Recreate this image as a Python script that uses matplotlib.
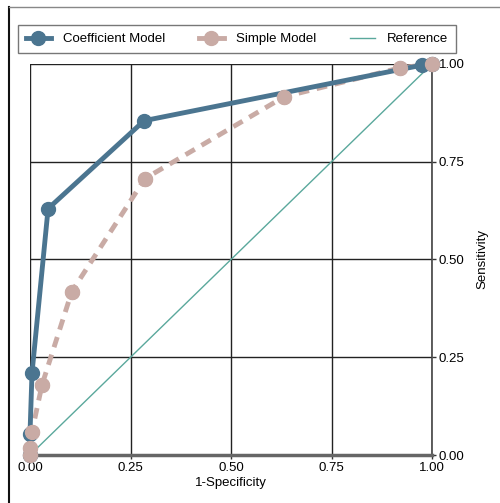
import matplotlib
matplotlib.use('Agg')
import matplotlib.pyplot as plt
from matplotlib.lines import Line2D

plt.rcParams['font.family'] = ['Liberation Sans', 'DejaVu Sans']

# ROC points
coef_fpr = [0.0, 0.0, 0.005, 0.045, 0.284, 0.975, 1.0]
coef_tpr = [0.0, 0.055, 0.21, 0.63, 0.855, 0.997, 1.0]

simple_fpr = [0.0, 0.0, 0.005, 0.03, 0.104, 0.286, 0.632, 0.92, 1.0]
simple_tpr = [0.0, 0.018, 0.06, 0.18, 0.418, 0.707, 0.916, 0.99, 1.0]

ticks = [0.0, 0.25, 0.5, 0.75, 1.0]
tick_labels = ['0.00', '0.25', '0.50', '0.75', '1.00']

blue = '#4b7590'
pink = '#c9aba5'
teal = '#5aa89c'

fig = plt.figure(figsize=(5, 5.03), dpi=100)
ax = fig.add_axes([0.06, 0.0954, 0.804, 0.7774])

# grid
for t in ticks:
    ax.axvline(t, color='#222222', lw=1, zorder=1)
    ax.axhline(t, color='#222222', lw=1, zorder=1)

ax.plot([0, 1], [0, 1], color=teal, lw=1, zorder=2)
ax.plot(simple_fpr, simple_tpr, color=pink, lw=3.5, ls=(0, (2.2, 1.6)),
        marker='o', ms=10, zorder=3, clip_on=False)
ax.plot(coef_fpr, coef_tpr, color=blue, lw=3.5, marker='o', ms=10,
        zorder=4, clip_on=False)
# simple model markers again so they sit on top like the reference
ax.plot(simple_fpr, simple_tpr, color=pink, lw=0, marker='o', ms=10,
        zorder=5, clip_on=False)

ax.set_xlim(0, 1)
ax.set_ylim(0, 1)
ax.set_xticks(ticks)
ax.set_xticklabels(tick_labels, fontsize=9.5)
ax.set_yticks(ticks)
ax.set_yticklabels(tick_labels, fontsize=9.5)
ax.yaxis.tick_right()
ax.yaxis.set_label_position('right')
ax.tick_params(axis='both', length=3, width=1, color='#333333', pad=2)
ax.set_xlabel('1-Specificity', fontsize=9.5, labelpad=2)
ax.set_ylabel('Sensitivity', fontsize=9.5, labelpad=8)

for s in ['top', 'left']:
    ax.spines[s].set_visible(False)
ax.spines['bottom'].set_color('#666666')
ax.spines['bottom'].set_linewidth(2.5)
ax.spines['right'].set_color('#444444')
ax.spines['right'].set_linewidth(1.2)

leg_handles = [
    Line2D([], [], color=blue, lw=3.5, marker='o', ms=10),
    Line2D([], [], color=pink, lw=3.5, marker='o', ms=10),
    Line2D([], [], color=teal, lw=1),
]
leg = fig.legend(leg_handles, ['Coefficient Model', 'Simple Model', 'Reference'],
                 loc='upper left', bbox_to_anchor=(0.036, 0.95), ncol=3,
                 fontsize=9.5, frameon=True, fancybox=False, handlelength=1.9,
                 columnspacing=2.55, handletextpad=0.9, borderpad=0.6,
                 borderaxespad=0)
leg.get_frame().set_edgecolor('#555555')
leg.get_frame().set_linewidth(1)

# outer frame lines (left and top) as in the picture
fig.add_artist(Line2D([0.017, 0.017], [0, 0.986], transform=fig.transFigure,
                      color='#111111', lw=1.5))
fig.add_artist(Line2D([0.017, 1.0], [0.986, 0.986], transform=fig.transFigure,
                      color='#888888', lw=1))

fig.savefig('out.png', dpi=100)
